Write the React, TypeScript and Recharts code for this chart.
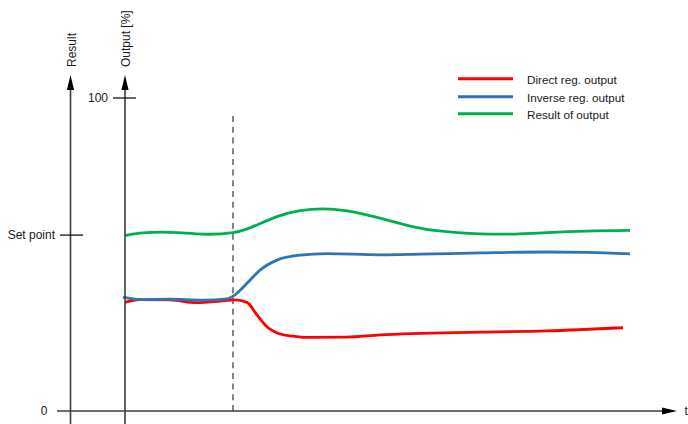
import React from 'react';
import { LineChart, Line, XAxis, YAxis, ReferenceLine, Legend } from 'recharts';

// ---- data (time t in arbitrary units, outputs in %) ----
const directT = [0, 3, 9, 14.4, 19, 22, 24.4, 26.4, 28.4, 31, 33.5, 36.4, 44.4, 51, 71, 84.4, 99.6];
const directV = [34.7, 35.6, 35.5, 34.6, 35.1, 35.5, 34.7, 30.7, 26.9, 24.6, 23.9, 23.5, 23.6, 24.3, 25.2, 25.6, 26.6];

const inverseT = [-0.4, 3, 9, 15.6, 20.4, 22, 24.4, 27, 30.4, 35, 40.4, 51, 59, 71, 84.4, 92.4, 101];
const inverseV = [36.4, 35.6, 35.7, 35.4, 35.8, 37.1, 40.8, 45.0, 48.2, 49.8, 50.3, 49.9, 50.1, 50.5, 50.8, 50.7, 50.2];

const resultT = [0, 3, 9, 15.6, 21.6, 25.6, 30.4, 35, 39.6, 44.4, 51, 59, 66.4, 75.6, 84.4, 92.4, 101];
const resultV = [56.0, 56.8, 57.1, 56.5, 57.0, 58.9, 62.1, 64.0, 64.6, 63.9, 61.6, 58.4, 57.0, 56.5, 57.0, 57.5, 57.7];

const seriesNames = ['Direct reg. output', 'Inverse reg. output', 'Result of output'];
const seriesColors = ['#FF0000', '#2E75B6', '#00B050'];

const outputTickValues = [100];
const outputTickLabels = ['100'];
const resultTickValues = [0, 56.2];
const resultTickLabels = ['0', 'Set point'];
const stepTime = [21.6];

// axis geometry in data units
const timeDomain = [-13.6, 110.4];
const valueDomain = [0, 100];
const resultAxisT = -10.9;
const outputAxisT = 0;
const axisBottomV = -4.15;
const axisTopV = 107.35;
const stepTopV = 94.25;

const toRows = (ts: number[], vs: number[]) => ts.map((t, i) => ({ t, v: vs[i] }));
const directData = toRows(directT, directV);
const inverseData = toRows(inverseT, inverseV);
const resultData = toRows(resultT, resultV);

const FONT = 'Liberation Sans, Arial, sans-serif';
const AXIS_COLOR = '#3c3c3c';
const TEXT_COLOR = '#1a1a1a';

const VerticalAxis = (title: string, titleDx: number) => (p: any) => {
  const x = p.x1;
  const top = Math.min(p.y1, p.y2);
  const bottom = Math.max(p.y1, p.y2);
  return (
    <g>
      <line x1={x} x2={x} y1={bottom} y2={top + 14} stroke={AXIS_COLOR} strokeWidth={1.6} />
      <polygon points={`${x},${top} ${x - 3.6},${top + 15} ${x + 3.6},${top + 15}`} fill="#000" />
      <text
        transform={`translate(${x + titleDx},${top - 8}) rotate(-90)`}
        textAnchor="start"
        fontFamily={FONT}
        fontSize={12}
        fill={TEXT_COLOR}
      >
        {title}
      </text>
    </g>
  );
};

const HorizontalAxis = (p: any) => {
  const y = p.y1;
  const left = Math.min(p.x1, p.x2);
  const right = Math.max(p.x1, p.x2);
  return (
    <g>
      <line x1={left} x2={right - 13} y1={y} y2={y} stroke={AXIS_COLOR} strokeWidth={1.4} />
      <polygon points={`${right},${y} ${right - 15},${y - 3.4} ${right - 15},${y + 3.4}`} fill="#000" />
      <text x={right + 7.5} y={y + 4} fontFamily={FONT} fontSize={12} fill={TEXT_COLOR}>t</text>
    </g>
  );
};

const TickMark = (label: string, drawLine: boolean, gap: number) => (p: any) => {
  const left = Math.min(p.x1, p.x2);
  const right = Math.max(p.x1, p.x2);
  const y = p.y1;
  return (
    <g>
      {drawLine && <line x1={left} x2={right} y1={y} y2={y} stroke="#000" strokeWidth={1.2} />}
      <text x={left - gap} y={y + 4.2} textAnchor="end" fontFamily={FONT} fontSize={12} fill={TEXT_COLOR}>
        {label}
      </text>
    </g>
  );
};

const LegendContent = () => (
  <div style={{ fontFamily: FONT, fontSize: 11.7, color: TEXT_COLOR }}>
    {seriesNames.map((name, i) => (
      <div key={name} style={{ display: 'flex', alignItems: 'center', height: 17.6 }}>
        <svg width={55} height={17.6} style={{ display: 'block' }}>
          <line x1={0} x2={55} y1={8.8} y2={8.8} stroke={seriesColors[i]} strokeWidth={3} />
        </svg>
        <span style={{ marginLeft: 14, position: 'relative', top: 0.5, whiteSpace: 'nowrap' }}>{name}</span>
      </div>
    ))}
  </div>
);

export default function App() {
  return (
    <div style={{ position: 'absolute', left: 0, top: 0, width: 688, height: 424, background: '#fff' }}>
      <LineChart width={688} height={424} margin={{ top: 98, bottom: 13, left: 57, right: 11 }}>
        <XAxis hide type="number" dataKey="t" domain={timeDomain} allowDataOverflow />
        <YAxis hide type="number" domain={valueDomain} allowDataOverflow />

        <ReferenceLine
          segment={[{ x: stepTime[0], y: 0 }, { x: stepTime[0], y: stepTopV }]}
          ifOverflow="visible"
          stroke="#333"
          strokeWidth={1.2}
          strokeDasharray="6 4.7"
        />

        <Line data={directData} dataKey="v" name={seriesNames[0]} type="monotone" dot={false}
          stroke={seriesColors[0]} strokeWidth={2.8} isAnimationActive={false} />
        <Line data={inverseData} dataKey="v" name={seriesNames[1]} type="monotone" dot={false}
          stroke={seriesColors[1]} strokeWidth={2.8} isAnimationActive={false} />
        <Line data={resultData} dataKey="v" name={seriesNames[2]} type="natural" dot={false}
          stroke={seriesColors[2]} strokeWidth={2.8} isAnimationActive={false} />

        <ReferenceLine
          segment={[{ x: timeDomain[0], y: 0 }, { x: timeDomain[1], y: 0 }]}
          ifOverflow="visible"
          shape={HorizontalAxis}
        />
        <ReferenceLine
          segment={[{ x: resultAxisT, y: axisBottomV }, { x: resultAxisT, y: axisTopV }]}
          ifOverflow="visible"
          shape={VerticalAxis('Result', 5)}
        />
        <ReferenceLine
          segment={[{ x: outputAxisT, y: axisBottomV }, { x: outputAxisT, y: axisTopV }]}
          ifOverflow="visible"
          shape={VerticalAxis('Output [%]', 4.5)}
        />
        <ReferenceLine
          segment={[{ x: -2.4, y: outputTickValues[0] }, { x: 2.2, y: outputTickValues[0] }]}
          ifOverflow="visible"
          shape={TickMark(outputTickLabels[0], true, 5)}
        />
        <ReferenceLine
          segment={[{ x: -13.0, y: resultTickValues[1] }, { x: -8.4, y: resultTickValues[1] }]}
          ifOverflow="visible"
          shape={TickMark(resultTickLabels[1], true, 5)}
        />
        <ReferenceLine
          segment={[{ x: timeDomain[0], y: resultTickValues[0] }, { x: -10.9, y: resultTickValues[0] }]}
          ifOverflow="visible"
          shape={TickMark(resultTickLabels[0], false, 9.5)}
        />

        <Legend
          layout="vertical"
          align="center"
          verticalAlign="middle"
          content={LegendContent}
          wrapperStyle={{ left: 458, top: 70.2, width: 200 }}
        />
      </LineChart>
    </div>
  );
}
